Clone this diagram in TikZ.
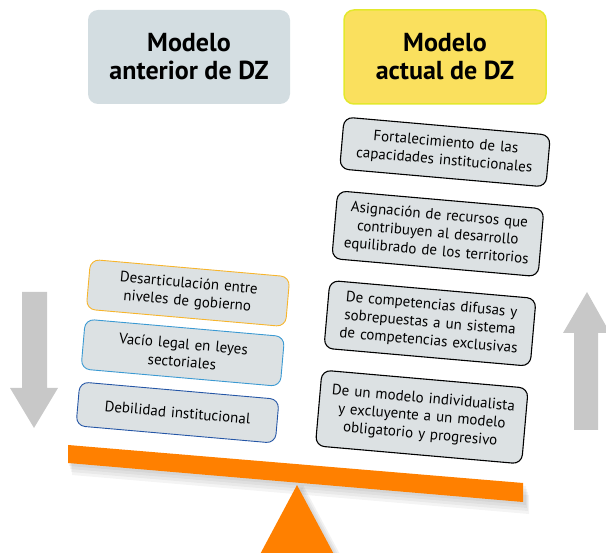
\documentclass[tikz,border=0pt]{standalone}
\usepackage{xcolor}
\usepackage{fontspec}
\setmainfont{PT Sans}
\usepackage{tikz}
\usetikzlibrary{shapes,arrows,arrows.meta}
\usetikzlibrary{shadows}
\usetikzlibrary{positioning}
\definecolor{boxgray}{HTML}{DCE1E3}
\definecolor{headgray}{HTML}{D3DDE1}
\definecolor{headyellow}{HTML}{FAE05E}
\definecolor{headrim}{HTML}{E3E82C}
\definecolor{beamorange}{HTML}{FF8000}
\definecolor{arrowgray}{HTML}{C8C8C8}
\definecolor{rimorange}{HTML}{F7B52C}
\definecolor{rimblue}{HTML}{3B9AD3}
\definecolor{rimnavy}{HTML}{2556A6}
\tikzstyle{head} = [rectangle, rounded corners=10pt, minimum width=202pt,
    minimum height=94pt, align=center, font=\fontsize{26}{28}\selectfont\bfseries]
\tikzstyle{newbox} = [rectangle, draw, line width=1.1pt, fill=boxgray, rounded corners=9pt,
    text width=197pt, inner sep=5pt, align=center, font=\fontsize{15}{18}\selectfont, rotate=-5]
\tikzstyle{oldbox} = [rectangle, draw, line width=0.9pt, fill=boxgray, rounded corners=9pt,
    text width=190pt, inner sep=5pt, align=center, font=\fontsize{15}{18}\selectfont, rotate=-5]
\tikzstyle{updown} = [fill=arrowgray]

\begin{document}
\begin{tikzpicture}[x=1pt,y=-1pt]
    \useasboundingbox (0,0) rectangle (606,553);
    % Headings
    \node[head, fill=headgray] (old) at (189,57) {Modelo\\anterior de DZ};
    \node[head, fill=headyellow, draw=headrim, line width=1.5pt] (new) at (445,57) {Modelo\\actual de DZ};
    % Place nodes, actual model
    \node[newbox, minimum height=52pt] (n1) at (445,152) {Fortalecimiento de las\\capacidades institucionales};
    \node[newbox, minimum height=68pt, node distance=82pt, below of=n1] (n2) {Asignaci\'on de recursos que\\contribuyen al desarrollo\\equilibrado de los territorios};
    \node[newbox, minimum height=68pt, node distance=90pt, below of=n2] (n3) {De competencias difusas y\\sobrepuestas a un sistema\\de competencias exclusivas};
    \node[newbox, minimum height=76pt, node distance=94pt, below of=n3] (n4) {De un modelo individualista\\y excluyente a un modelo\\obligatorio y progresivo};
    % Place nodes, former model
    \node[oldbox, draw=rimorange, minimum height=50pt] (o1) at (188,293) {Desarticulaci\'on entre\\niveles de gobierno};
    \node[oldbox, draw=rimblue, minimum height=50pt, node distance=60pt, below of=o1] (o2) {Vac\'io legal en leyes\\sectoriales};
    \node[oldbox, draw=rimnavy, minimum height=44pt, node distance=60pt, below of=o2] (o3) {Debilidad institucional};
    % Balance, with a soft shadow
    \foreach \s in {3,6,9,12}
        \fill[black, opacity=.045] (68+\s/3,445+\s) -- (525+\s/3,483+\s) -- (525+\s/3,502+\s) -- (68+\s/3,463+\s) -- cycle;
    \foreach \s in {2,4,6}
        \fill[black, opacity=.05] (297+\s,485) -- (337+\s,560) -- (257+\s,560) -- cycle;
    \fill[beamorange] (297,485) -- (337,560) -- (257,560) -- cycle;
    \fill[beamorange] (68,445) -- (523,483) -- (523,502) -- (68,463) -- cycle;
    % Arrows
    \path[updown] (22,292) -- (47,292) -- (47,388) -- (58,388) -- (34,428) -- (10,388) -- (22,388) -- cycle;
    \path[updown] (574,430) -- (598,430) -- (598,333) -- (610,333) -- (587,292) -- (563,333) -- (574,333) -- cycle;
\end{tikzpicture}
\end{document}
